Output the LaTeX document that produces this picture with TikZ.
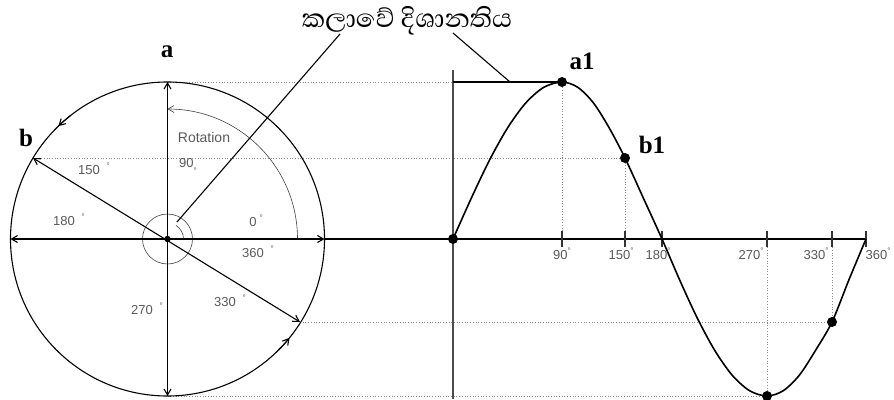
\documentclass[tikz,border=0pt]{standalone}
\usepackage{fontspec}
\setmainfont{Liberation Serif}
\newfontfamily\sinhalafont[Script=Sinhala]{Abhaya Libre}
\newfontfamily\labfont{Liberation Sans}
\usetikzlibrary{arrows.meta,calc}
\newcommand{\dg}{\raisebox{0.9ex}{\fontsize{8}{8}\selectfont°}}
\newcommand{\dgl}{\raisebox{-1.0ex}{\fontsize{8}{8}\selectfont°}}
\begin{document}
\begin{tikzpicture}[x=1pt,y=-1pt,
  >={Straight Barb[length=6pt,width=7pt]},
  heavy/.style={line width=1.1pt,black},
  thinline/.style={line width=0.6pt,black!75},
  guide/.style={dotted,line width=0.7pt,black!45},
  dot/.style={circle,fill=black,inner sep=0pt,minimum size=10pt},
  letter/.style={font=\fontsize{25}{25}\selectfont\bfseries,inner sep=0pt},
  deg/.style={font=\labfont\fontsize{13}{13}\selectfont,text=black!65,inner sep=0pt},
  tickmark/.style={line width=1.3pt,black!80}]
\useasboundingbox (0,0) rectangle (894,399);
% key coordinates
\coordinate (O) at (167.5,239);
\coordinate (A) at (167.5,82);
\coordinate (D) at (167.5,396);
\coordinate (L) at (10.5,239);
\coordinate (R) at (324.5,239);
\coordinate (B) at (33,158);
\coordinate (P) at (300,322);
\coordinate (S0) at (453,239);
\coordinate (S90) at (562,82);
\coordinate (S150) at (625,158);
\coordinate (S270) at (767,396);
\coordinate (S330) at (832,322);
\coordinate (T90) at (562,239);
\coordinate (T150) at (625,239);
\coordinate (T180) at (662,239);
\coordinate (T270) at (767,239);
\coordinate (T330) at (832,239);
\coordinate (T360) at (866,239);
\coordinate (Vtop) at (453,70);
\coordinate (Vbot) at (453,399);
\coordinate (Ltop) at (453,82);
% guide lines
\draw[guide] (A) -- (Ltop);
\draw[guide] (B) -- (S150);
\draw[guide] (P) -- (S330);
\draw[guide] (D) -- (S270);
\draw[guide] (T90) -- (S90);
\draw[guide] (T150) -- (S150);
\draw[guide] (T270) -- (S270);
\draw[guide] (T330) -- (S330);
% circle (angles negated because the y axis points down)
\draw[heavy] (O) circle[radius=157];
\draw[thinline] (O) circle[radius=25];
\draw[thinline] ($(O)+(16,0)$) arc[start angle=0,end angle=-58,radius=16];
\draw[thinline,->] ($(O)+(130,0)$) arc[start angle=0,end angle=-90,radius=130];
% rotation marks on circumference
\draw[heavy,->] ($(O)+(-128:157)$) arc[start angle=-128,end angle=-134,radius=157];
\draw[heavy,->] ($(O)+(45:157)$) arc[start angle=45,end angle=39,radius=157];
% phasors
\draw[heavy,<->] (L) -- (R);
\draw[heavy,<->] (A) -- (D);
\draw[heavy,<->] (B) -- (P);
\fill (O) circle[radius=3.2];
% axes of wave
\draw[heavy] (R) -- (T360);
\draw[line width=1.1pt,black!70] (Vtop) -- (Vbot);
\draw[heavy] (Ltop) -- (S90);
\foreach \t in {T90,T150,T180,T270,T330,T360}
  \draw[tickmark] ($(\t)+(0,-8)$) -- ($(\t)+(0,8)$);
% wave
\draw[line width=1.6pt] plot[smooth] coordinates {
 (453,239) (471.2,198.4) (489.3,160.5) (507.5,128) (525.7,103) (543.8,87.3)
 (562,82) (577.75,87.3) (593.5,103) (609.25,128) (625,158) (643.5,198.4)
 (662,239) (679.5,279.6) (697,317.5) (714.5,350) (732,375) (749.5,390.7)
 (767,396) (783.25,390.7) (799.5,375) (815.75,350) (832,322) (849,279.6) (866,239)};
\foreach \p in {S0,S90,S150,S270,S330} \node[dot] at (\p) {};
% title and leaders
\node[font=\sinhalafont\fontsize{33}{33}\selectfont,inner sep=0pt] (title) at (407,21) {කලාවේ දිශානතිය};
\coordinate (q1) at (340,34);
\coordinate (q2) at (177,222);
\coordinate (q3) at (453,33);
\coordinate (q4) at (510,82);
\draw[heavy] (q1) -- (q2);
\draw[heavy] (q3) -- (q4);
% letters
\node[letter] (la) at (167,52) {a};
\node[letter] (lb) at (26,138) {b};
\node[letter] (la1) at (582,61) {a1};
\node[letter] (lb1) at (652,145) {b1};
% circle degree labels
\node[font=\labfont\fontsize{14}{14}\selectfont,text=black!65,inner sep=0pt] (rot) at (204,137) {Rotation};
\node[deg] (d150) at (94,169) {150\hspace{7pt}\dg};
\node[deg] (d90) at (188,166) {90\dgl};
\node[deg] (d180) at (69,220) {180\hspace{7pt}\dg};
\node[deg] (d0) at (256,221) {0\hspace{3pt}\dg};
\node[deg] (d360) at (258,252) {360\hspace{7pt}\dg};
\node[deg] (d270) at (147,309) {270\hspace{7pt}\dg};
\node[deg] (d330) at (230,301) {330\hspace{7pt}\dg};
% axis degree labels
\node[deg] (a90) at (562,254) {90\dg};
\node[deg] (a150) at (621,254) {150\dg};
\node[deg] (a180) at (658,254) {180\dg};
\node[deg] (a270) at (751,254) {270\dg};
\node[deg] (a330) at (816,254) {330\dg};
\node[deg] (a360) at (878,254) {360\dg};
\end{tikzpicture}
\end{document}
